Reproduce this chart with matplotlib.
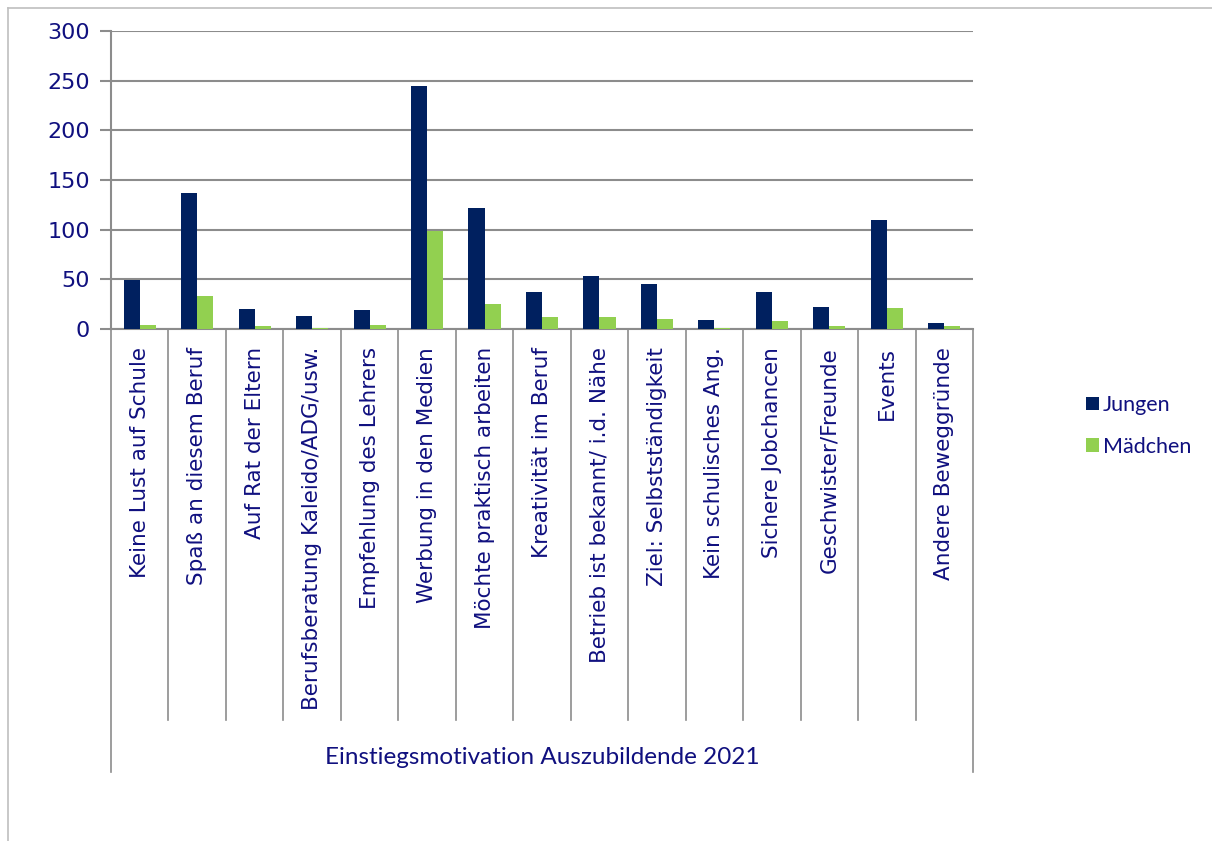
# Einstiegsmotivation Auszubildende 2021 - Balkendiagramm
import matplotlib
matplotlib.use("Agg")
from matplotlib import pyplot as plt
from matplotlib.lines import Line2D
import numpy as np

# Daten
kategorien = ["Keine Lust auf Schule", "Spaß an diesem Beruf", "Auf Rat der Eltern",
              "Berufsberatung Kaleido/ADG/usw.", "Empfehlung des Lehrers",
              "Werbung in den Medien", "Möchte praktisch arbeiten", "Kreativität im Beruf",
              "Betrieb ist bekannt/ i.d. Nähe", "Ziel: Selbstständigkeit",
              "Kein schulisches Ang.", "Sichere Jobchancen", "Geschwister/Freunde",
              "Events", "Andere Beweggründe"]
jungen = [49, 137, 20, 13, 19, 245, 122, 37, 53, 45, 9, 37, 22, 110, 6]
maedchen = [4, 33, 3, 1, 4, 99, 25, 12, 12, 10, 1, 8, 3, 21, 3]
y_ticks = [0, 50, 100, 150, 200, 250, 300]
titel = "Einstiegsmotivation Auszubildende 2021"

navy = "#10107f"
grid = "#8c8c8c"

fig = plt.figure(figsize=(12.12, 8.41), dpi=100)
ax = fig.add_axes([111/1212, 1-329/841, (973-111)/1212, (329-31)/841])

x = np.arange(len(kategorien))
w = 0.28
ax.bar(x - w/2, jungen, w, color="#00205f", label="Jungen", zorder=3)
ax.bar(x + w/2, maedchen, w, color="#92d050", label="Mädchen", zorder=3)

ax.set_xlim(-0.5, len(kategorien) - 0.5)
ax.set_ylim(0, 300)
ax.set_yticks(y_ticks)
ax.set_yticklabels([str(v) for v in y_ticks], fontsize=16, color=navy)
ax.tick_params(axis="y", length=8, width=1.5, color=grid, pad=7)
ax.yaxis.grid(True, color=grid, linewidth=1.5, zorder=0)

# Kategoriebeschriftungen
ax.set_xticks(x)
ax.set_xticklabels(kategorien, rotation=90, fontsize=15.5, color=navy, va="top")
ax.tick_params(axis="x", length=0, pad=13)

for s in ["top", "right"]:
    ax.spines[s].set_visible(False)
ax.spines["left"].set_color(grid)
ax.spines["left"].set_linewidth(1.5)
ax.spines["bottom"].set_color(grid)
ax.spines["bottom"].set_linewidth(1.5)

# Trennlinien der Kategorieachse
trans = ax.get_xaxis_transform()
for i in range(len(kategorien) + 1):
    b = i - 0.5
    unten = -1.487 if i in (0, len(kategorien)) else -1.312
    ax.plot([b, b], [0, unten], transform=trans, color=grid, lw=1.2, clip_on=False)

ax.text(0.5, -1.437, titel, transform=ax.transAxes, ha="center", va="center",
        fontsize=17.5, color=navy, family="Lato")

# Legende
fig.legend(loc="center left", bbox_to_anchor=(1067/1212, 1-426/841), frameon=False,
           prop={"family": "Lato", "size": 15.5}, labelcolor=navy,
           handlelength=0.6, handleheight=0.6, handletextpad=0.15, labelspacing=1.0)

# Rahmen
fig.add_artist(Line2D([8/1212, 8/1212], [0, 1-8/841], color="#bfbfbf", lw=1.2))
fig.add_artist(Line2D([8/1212, 1], [1-8/841, 1-8/841], color="#bfbfbf", lw=1.2))

plt.savefig("out.png", dpi=100)
